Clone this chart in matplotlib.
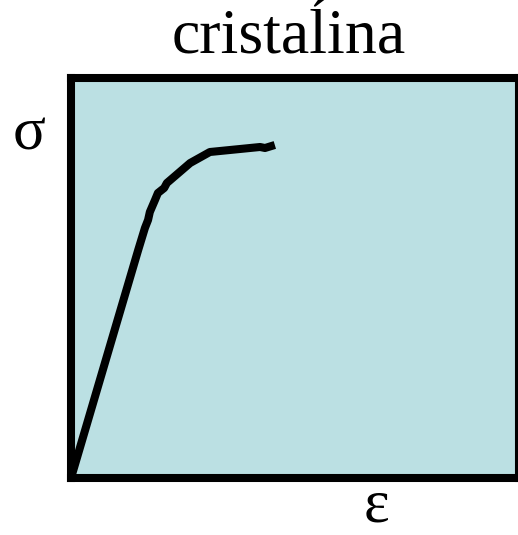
import matplotlib
matplotlib.use("Agg")
import matplotlib.pyplot as plt

# Stress-strain curve (crystalline), in axis-percent units
strain = [0.0, 15.0, 16.5, 17.2, 17.6, 18.75, 19.4, 20.8, 21.4, 26.6, 31.0, 42.2, 43.3, 45.5]
stress = [0.0, 57.0, 62.5, 64.5, 66.5, 69.5, 71.25, 72.5, 73.75, 78.75, 81.5, 82.75, 82.5, 83.25]

title_text = "cristaĺina"
ylabel_text = "σ"
xlabel_text = "ε"

fig = plt.figure(figsize=(5.18, 5.35), dpi=100)
ax = fig.add_axes([71/518, 57/535, 448/518, 400/535])
ax.set_facecolor("#BBE0E3")
ax.plot(strain, stress, color="black", lw=5.8, solid_capstyle="butt", solid_joinstyle="round")
ax.set_xlim(0, 100)
ax.set_ylim(0, 100)
ax.set_xticks([])
ax.set_yticks([])
for s in ax.spines.values():
    s.set_linewidth(5.8)
    s.set_color("black")
ax.spines["right"].set_clip_on(False)

serif = ["Liberation Serif", "DejaVu Serif"]
fig.text(289/518, 1 - 52/535, title_text, family=serif, fontsize=46, ha="center", va="baseline")
fig.text(29/518, 1 - 150/535, ylabel_text, family=serif, fontsize=44, ha="center", va="baseline")
fig.text(377/518, 1 - 521/535, xlabel_text, family=serif, fontsize=44, ha="center", va="baseline")

fig.savefig("out.png", dpi=100)
